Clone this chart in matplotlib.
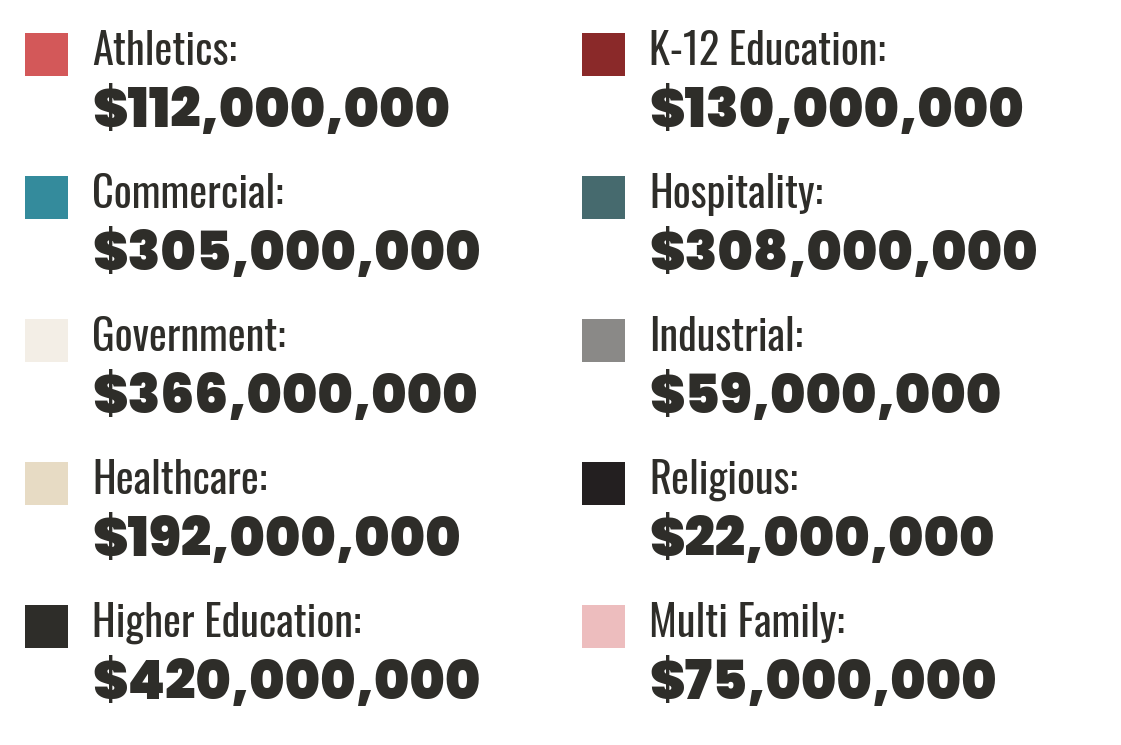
import matplotlib
matplotlib.use("Agg")
import matplotlib.pyplot as plt
from matplotlib.patches import Rectangle

categories = ["Athletics", "Commercial", "Government", "Healthcare", "Higher Education",
              "K-12 Education", "Hospitality", "Industrial", "Religious", "Multi Family"]
values = [112000000, 305000000, 366000000, 192000000, 420000000,
          130000000, 308000000, 59000000, 22000000, 75000000]
colors = ["#D35859", "#348B9C", "#F3EEE6", "#E7DBC4", "#2E2D29",
          "#8A2929", "#466A6E", "#8A8987", "#231F20", "#EDBDBE"]

TEXT = "#2E2D29"
W, H = 1121, 745
fig = plt.figure(figsize=(W / 100, H / 100), dpi=100)
ax = fig.add_axes([0, 0, 1, 1])
ax.set_xlim(0, W)
ax.set_ylim(H, 0)
ax.axis("off")

rows_per_col = 5
col_x = [25, 582]
row_y0, row_step = 33, 143
sq = 43

for i, (cat, val, col) in enumerate(zip(categories, values, colors)):
    c, r = divmod(i, rows_per_col)
    x = col_x[c]
    y = row_y0 + r * row_step
    ax.add_patch(Rectangle((x, y), sq, sq, facecolor=col, edgecolor="none"))
    ax.text(x + 67, y + 32, f"{cat}:", fontsize=30.5, color=TEXT,
            family=["Oswald", "DejaVu Sans"], fontweight="light", va="baseline", ha="left")
    ax.text(x + 67, y + 94, f"${val:,.0f}", fontsize=38.5, color=TEXT,
            family=["Poppins", "DejaVu Sans"], fontweight="black", va="baseline", ha="left")

fig.savefig("out.png", dpi=100, facecolor="white")
